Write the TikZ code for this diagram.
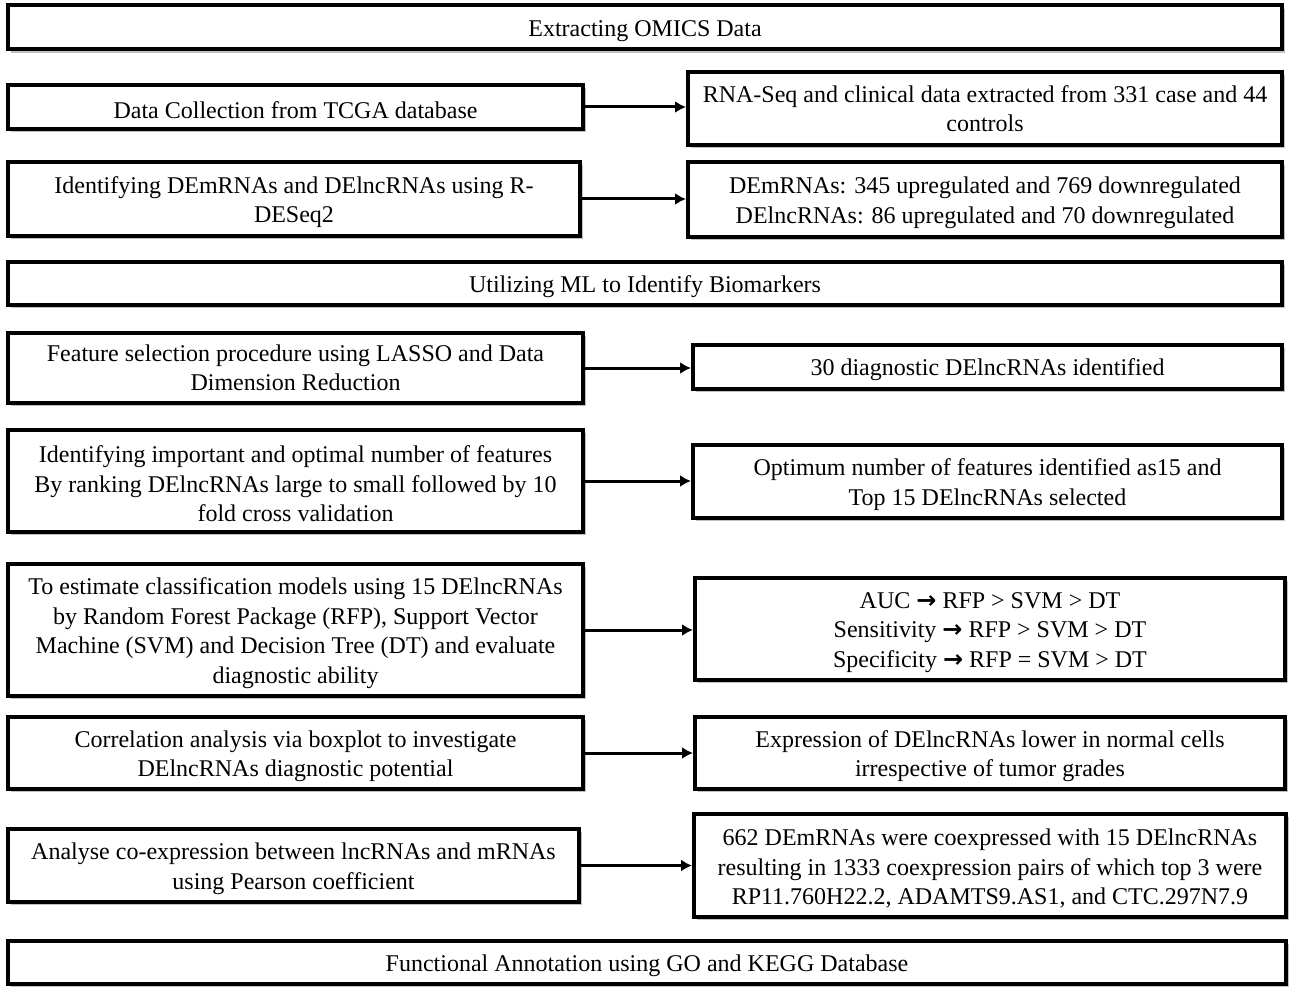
\documentclass[tikz,border=0pt]{standalone}
\usepackage{fontspec}
\setmainfont{Liberation Serif}
\newfontfamily\arrowfont{DejaVu Sans}
\usepackage{tikz}
\usetikzlibrary{positioning, arrows.meta, shadows, calc}

% bold arrow used inside the result boxes
\newcommand{\ra}{{\arrowfont\bfseries →}}
% taller first line, pushes the text a little down in its box
\newcommand{\lift}{\rule{0pt}{11.5pt}}

\begin{document}
\begin{tikzpicture}[
 x=0.5pt, y=-0.5pt,
 font=\fontsize{12}{14.75}\selectfont,
 box/.style={draw, rectangle, line width=2pt, fill=white, align=center, inner sep=0pt,
  drop shadow={shadow xshift=1.6pt, shadow yshift=-1.6pt, fill=black!45, opacity=0.55}},
 wide/.style={box, minimum width=637pt, minimum height=22pt},
 link/.style={-{Latex[length=5.5pt,width=6pt]}, line width=1.5pt}
]
 \useasboundingbox (0,0) rectangle (1299,1000);

 % Section headers across the full width
 \node[wide] (omics) at (645,27.5) {\lift Extracting OMICS Data};
 \node[wide, minimum height=21.5pt] (ml) at (645,283.5) {\lift Utilizing ML to Identify Biomarkers};
 \node[wide, minimum width=639pt, minimum height=21.5pt] (func) at (647,962.5) {\lift Functional Annotation using GO and KEGG Database};

 % Left column: steps
 \node[box, minimum width=287.5pt, minimum height=22pt] (collect) at (295.5,107) {\lift Data Collection from TCGA database};
 \node[box, minimum width=286pt, minimum height=37pt] (deseq) at (294,199) {\lift Identifying DEmRNAs and DElncRNAs using R-\\DESeq2};
 \node[box, minimum width=287.5pt, minimum height=35pt] (lasso) at (295.5,368) {Feature selection procedure using LASSO and Data\\Dimension Reduction};
 \node[box, minimum width=287.5pt, minimum height=51pt] (rank) at (295.5,481) {\lift Identifying important and optimal number of features\\By ranking DElncRNAs large to small followed by 10\\fold cross validation};
 \node[box, minimum width=287.5pt, minimum height=66pt] (models) at (295.5,630) {\lift To estimate classification models using 15 DElncRNAs\\by Random Forest Package (RFP), Support Vector\\Machine (SVM) and Decision Tree (DT) and evaluate\\diagnostic ability};
 \node[box, minimum width=287.5pt, minimum height=36pt] (corr) at (295.5,753) {\lift Correlation analysis via boxplot to investigate\\DElncRNAs diagnostic potential};
 \node[box, minimum width=285.5pt, minimum height=36.5pt] (coexp) at (293.5,865.5) {\lift Analyse co-expression between lncRNAs and mRNAs\\using Pearson coefficient};

 % Right column: results
 \node[box, minimum width=297pt, minimum height=36.5pt] (rnaseq) at (985,108.5) {RNA-Seq and clinical data extracted from 331 case and 44\\controls};
 \node[box, minimum width=297pt, minimum height=37.5pt] (degs) at (985,199.5) {\lift DEmRNAs: 345 upregulated and 769 downregulated\\DElncRNAs: 86 upregulated and 70 downregulated};
 \node[box, minimum width=294.5pt, minimum height=22pt] (thirty) at (987.5,367) {\lift 30 diagnostic DElncRNAs identified};
 \node[box, minimum width=294.5pt, minimum height=36.5pt] (top15) at (987.5,481.5) {\lift Optimum number of features identified as15 and\\Top 15 DElncRNAs selected};
 \node[box, minimum width=295pt, minimum height=51pt] (auc) at (990,629) {\lift AUC \ra{} RFP > SVM > DT\\Sensitivity \ra{} RFP > SVM > DT\\Specificity \ra{} RFP = SVM > DT};
 \node[box, minimum width=295pt, minimum height=36pt] (lower) at (990,753) {\lift Expression of DElncRNAs lower in normal cells\\irrespective of tumor grades};
 \node[box, minimum width=296pt, minimum height=51.5pt] (pairs) at (990,865.5) {\lift 662 DEmRNAs were coexpressed with 15 DElncRNAs\\resulting in 1333 coexpression pairs of which top 3 were\\RP11.760H22.2, ADAMTS9.AS1, and CTC.297N7.9};

 % Step -> result
 \foreach \a/\b in {collect/rnaseq, deseq/degs, lasso/thirty, rank/top15, models/auc, corr/lower, coexp/pairs}
  \draw[link] (\a.east) -- (\a.east -| \b.west);
\end{tikzpicture}
\end{document}
